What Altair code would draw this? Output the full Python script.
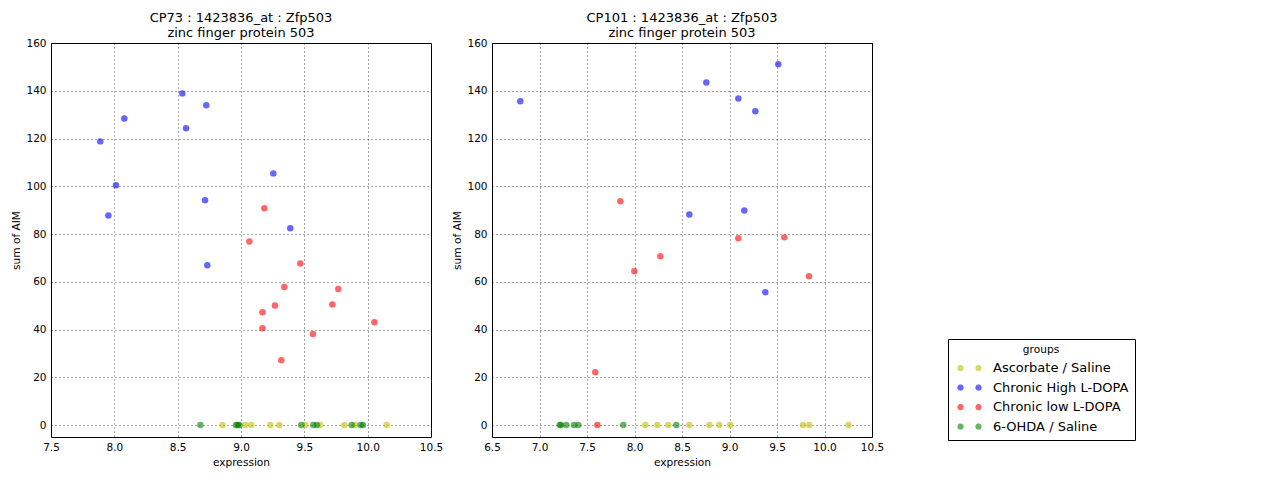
import math
import altair as alt
import pandas as pd

groups = ["Ascorbate / Saline", "Chronic High L-DOPA", "Chronic low L-DOPA", "6-OHDA / Saline"]
colors = ["#bfbf00", "#0000ff", "#ff0000", "#008000"]

# ---- CP73 panel ----
cp73_asc_x = [8.853, 9.034, 9.081, 9.231, 9.302, 9.508, 9.626, 9.816, 9.900, 10.150]
cp73_asc_y = [0, 0, 0, 0, 0, 0, 0, 0, 0, 0]
cp73_high_x = [8.537, 8.726, 8.079, 8.566, 7.889, 9.255, 8.013, 8.716, 7.953, 9.389, 8.734]
cp73_high_y = [138.9, 133.9, 128.4, 124.3, 118.8, 105.4, 100.4, 94.1, 87.8, 82.4, 66.9]
cp73_low_x = [9.184, 9.066, 9.468, 9.342, 9.768, 9.268, 9.721, 9.169, 9.169, 10.053, 9.568, 9.318]
cp73_low_y = [90.8, 76.9, 67.7, 57.8, 57.0, 50.1, 50.5, 47.2, 40.5, 43.1, 38.1, 27.1]
cp73_ohda_x = [8.679, 8.961, 8.974, 8.987, 9.476, 9.571, 9.598, 9.874, 9.945, 9.963]
cp73_ohda_y = [0, 0, 0, 0, 0, 0, 0, 0, 0, 0]

# ---- CP101 panel ----
cp101_asc_x = [8.114, 8.240, 8.356, 8.577, 8.788, 8.893, 9.005, 9.774, 9.840, 10.251]
cp101_asc_y = [0, 0, 0, 0, 0, 0, 0, 0, 0, 0]
cp101_high_x = [6.798, 8.756, 9.514, 9.093, 9.272, 8.577, 9.156, 9.377]
cp101_high_y = [135.6, 143.5, 151.1, 136.8, 131.4, 88.2, 89.9, 55.6]
cp101_low_x = [7.851, 9.093, 9.577, 8.272, 7.998, 9.837, 7.587, 7.609]
cp101_low_y = [93.7, 78.2, 78.6, 70.7, 64.4, 62.3, 22.1, 0]
cp101_ohda_x = [7.214, 7.225, 7.282, 7.363, 7.408, 7.882, 8.440]
cp101_ohda_y = [0, 0, 0, 0, 0, 0, 0]

cp73_x_ticks = [7.5, 8.0, 8.5, 9.0, 9.5, 10.0, 10.5]
cp101_x_ticks = [6.5, 7.0, 7.5, 8.0, 8.5, 9.0, 9.5, 10.0, 10.5]
y_ticks = [0, 20, 40, 60, 80, 100, 120, 140, 160]

FONT = "DejaVu Sans"


def make_df(series):
    rows = []
    for g, xs, ys in series:
        for xv, yv in zip(xs, ys):
            rows.append({"group": g, "expression": xv, "aim": yv})
    return pd.DataFrame(rows)


df73 = make_df([
    (groups[0], cp73_asc_x, cp73_asc_y),
    (groups[1], cp73_high_x, cp73_high_y),
    (groups[2], cp73_low_x, cp73_low_y),
    (groups[3], cp73_ohda_x, cp73_ohda_y),
])
df101 = make_df([
    (groups[0], cp101_asc_x, cp101_asc_y),
    (groups[1], cp101_high_x, cp101_high_y),
    (groups[2], cp101_low_x, cp101_low_y),
    (groups[3], cp101_ohda_x, cp101_ohda_y),
])


def ring(cx, r, n=20):
    pts = []
    for i in range(n):
        a = 2 * math.pi * i / n
        pts.append(f"{cx + r * math.cos(a):.3f},{r * math.sin(a):.3f}")
    return "M" + " L".join(pts) + " Z"


# two markers per legend entry (like matplotlib numpoints=2)
legend_path = ring(0, 1.05) + " " + ring(6, 1.05)

legend = alt.Legend(
    title="groups",
    orient="none",
    legendX=897,
    legendY=296,
    symbolType=legend_path,
    symbolSize=36,
    symbolOpacity=0.6,
    symbolStrokeWidth=0,
    labelFont=FONT,
    labelFontSize=13,
    labelColor="black",
    labelOffset=26,
    titleFont=FONT,
    titleFontSize=10.6,
    titleFontWeight="normal",
    titleColor="black",
    titleAnchor="middle",
    titleAlign="center",
    titlePadding=6,
    rowPadding=5.5,
    padding=6,
    strokeColor="black",
    fillColor="white",
)


def panel(df, title_lines, xdom, xticks):
    return alt.Chart(df).mark_circle(size=42, opacity=0.6).encode(
        x=alt.X("expression:Q",
                scale=alt.Scale(domain=xdom, nice=False, zero=False),
                axis=alt.Axis(values=xticks, format=".1f", title="expression", titlePadding=5)),
        y=alt.Y("aim:Q",
                scale=alt.Scale(domain=[-5, 160], nice=False, zero=False),
                axis=alt.Axis(values=y_ticks, format="d", title="sum of AIM",
                              titleX=-35, titleY=197, titleBaseline="middle")),
        color=alt.Color("group:N", scale=alt.Scale(domain=groups, range=colors), legend=legend),
    ).properties(
        width=380,
        height=394,
        title=alt.TitleParams(title_lines, font=FONT, fontSize=13, fontWeight="normal",
                              color="black", anchor="middle", offset=-2, lineHeight=15),
    )


left = panel(df73, ["CP73 : 1423836_at : Zfp503", "zinc finger protein 503"], [7.5, 10.5], cp73_x_ticks)
right = panel(df101, ["CP101 : 1423836_at : Zfp503", "zinc finger protein 503"], [6.5, 10.5], cp101_x_ticks)

chart = alt.hconcat(left, right, spacing=7).properties(
    padding={"left": 2, "top": 3, "right": 5, "bottom": 2},
    background="white",
).configure_view(
    stroke="black", strokeWidth=1
).configure_axis(
    grid=True,
    gridColor="black",
    gridDash=[1, 3],
    gridOpacity=0.7,
    gridWidth=1,
    domain=False,
    ticks=False,
    labelFont=FONT,
    labelFontSize=10.5,
    labelColor="black",
    labelPadding=5,
    labelFlush=False,
    labelOverlap=False,
    titleFont=FONT,
    titleFontSize=10.6,
    titleFontWeight="normal",
    titleColor="black",
)

chart.save("out.html", embed_options={"renderer": "svg", "actions": False})
